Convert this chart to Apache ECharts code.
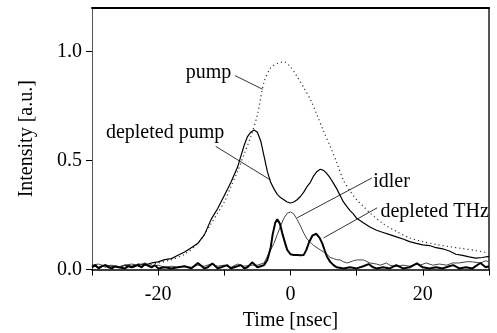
<!DOCTYPE html>
<html><head><meta charset="utf-8">
<script src="https://cdn.jsdelivr.net/npm/echarts@6/dist/echarts.min.js"></script>
<style>html,body{margin:0;padding:0;background:#fff}#c{width:497px;height:333px}</style>
</head><body><div id="c"></div><script>
var FONT = '"Liberation Serif","Times New Roman",serif';
var xTicks = [-30, -20, -10, 0, 10, 20, 30];
var xLabels = [-20, 0, 20];
var yLabels = [0, 0.5, 1.0];

var pump = [[-30,0.015],[-28,0.01],[-26,0.015],[-24,0.012],[-22,0.018],[-20,0.03],[-18,0.045],[-16,0.07],[-14,0.12],[-12,0.21],[-11,0.26],[-10,0.31],[-9,0.38],[-8,0.45],[-7,0.53],[-6,0.61],[-5,0.71],[-4,0.86],[-3,0.925],[-2,0.945],[-1,0.953],[0,0.93],[1,0.885],[2,0.835],[3,0.78],[4,0.71],[5,0.635],[6,0.565],[7,0.49],[8,0.41],[9,0.36],[10,0.32],[11,0.29],[12,0.26],[14,0.21],[16,0.175],[18,0.145],[20,0.128],[22,0.115],[24,0.105],[26,0.096],[28,0.087],[30,0.076]];

var depletedPump = [[-30,0.02],[-29,0.01],[-28,0.02],[-27,0.015],[-26,0.01],[-25,0.02],[-24,0.015],[-23,0.025],[-22,0.02],[-21,0.03],[-20,0.035],[-19,0.045],[-18,0.05],[-17,0.065],[-16,0.08],[-15,0.1],[-14,0.12],[-13,0.16],[-12,0.23],[-11,0.28],[-10,0.34],[-9,0.40],[-8,0.47],[-7.5,0.52],[-7,0.57],[-6.5,0.61],[-6,0.63],[-5.5,0.64],[-5,0.63],[-4.5,0.59],[-4,0.52],[-3.5,0.45],[-3,0.40],[-2.5,0.37],[-2,0.345],[-1.5,0.33],[-1,0.32],[-0.5,0.31],[0,0.305],[0.5,0.31],[1,0.32],[1.5,0.335],[2,0.355],[2.5,0.38],[3,0.40],[3.5,0.43],[4,0.45],[4.5,0.46],[5,0.455],[5.5,0.44],[6,0.42],[6.5,0.395],[7,0.37],[7.5,0.34],[8,0.31],[8.5,0.29],[9,0.27],[9.5,0.255],[10,0.235],[11,0.215],[12,0.195],[13,0.18],[14,0.17],[15,0.16],[16,0.15],[17,0.14],[18,0.128],[19,0.12],[20,0.113],[21,0.11],[22,0.10],[23,0.095],[24,0.085],[25,0.07],[26,0.065],[27,0.058],[28,0.052],[29,0.055],[30,0.06]];

var idler = [[-30,0.02],[-29,0.025],[-28,0.015],[-27,0.02],[-26,0.01],[-25,0.02],[-24,0.025],[-23,0.02],[-22,0.03],[-21,0.015],[-20,0.02],[-19,0.01],[-18,0.015],[-17,0.01],[-16,0.015],[-15,0.01],[-14,0.02],[-13,0.015],[-12,0.025],[-11,0.015],[-10,0.02],[-9,0.01],[-8,0.025],[-7,0.015],[-6,0.02],[-5,0.02],[-4,0.03],[-3.5,0.06],[-3,0.09],[-2.5,0.12],[-2,0.16],[-1.5,0.20],[-1,0.235],[-0.5,0.258],[0,0.264],[0.5,0.255],[1,0.23],[1.5,0.2],[2,0.167],[2.5,0.14],[3,0.125],[3.5,0.11],[4,0.1],[4.5,0.09],[5,0.08],[5.5,0.07],[6,0.055],[6.5,0.05],[7,0.045],[7.5,0.044],[8,0.035],[8.6,0.03],[9.5,0.04],[10,0.044],[11,0.044],[12,0.03],[13,0.025],[13.6,0.02],[14.5,0.03],[15,0.02],[16,0.013],[17,0.02],[18,0.015],[19,0.025],[19.6,0.02],[20.5,0.03],[21.5,0.02],[22.5,0.025],[23.6,0.02],[24.5,0.03],[25.5,0.03],[26.7,0.036],[27.5,0.035],[28.7,0.03],[29.5,0.04],[30,0.035]];

var depletedTHz = [[-30,0.01],[-29.5,0.02],[-29,0.005],[-28.5,0.015],[-28,0.02],[-27.5,0.01],[-27,0.005],[-26.5,0.015],[-26,0.01],[-25,0.005],[-24.5,0.015],[-24,0.01],[-23,0.02],[-22.5,0.01],[-22,0.025],[-21,0.01],[-20.5,0.02],[-20,0.005],[-19,0.01],[-18,0.005],[-17,0.01],[-16,0.015],[-15,0.005],[-14,0.03],[-13,0.005],[-12.5,0.01],[-11.8,0.028],[-11,0.005],[-10.5,0.01],[-9.6,0.02],[-9,0.005],[-8.5,0.01],[-7.5,0.02],[-7,0.005],[-6.5,0.01],[-5.8,0.033],[-5,0.01],[-4.5,0.015],[-4,0.02],[-3.5,0.044],[-3,0.1],[-2.7,0.16],[-2.3,0.215],[-2,0.23],[-1.6,0.21],[-1.25,0.167],[-0.8,0.12],[-0.5,0.09],[0,0.07],[0.5,0.067],[1,0.066],[1.5,0.065],[2,0.067],[2.4,0.09],[2.8,0.125],[3.3,0.155],[3.9,0.164],[4.4,0.145],[4.8,0.12],[5.2,0.085],[5.5,0.06],[6,0.035],[6.5,0.02],[7,0.01],[8,0.005],[9,0.01],[10,0.005],[11,0.015],[11.8,0.025],[12.5,0.01],[13,0.005],[14,0.01],[15,0.005],[16,0.02],[17,0.005],[18,0.01],[19.1,0.028],[20,0.01],[21,0.005],[22,0.01],[23,0.005],[24,0.015],[24.6,0.02],[25.5,0.005],[26.5,0.01],[27.5,0.005],[28.7,0.03],[29.5,0.01],[30,0.015]];

// annotation labels: text, anchor [x, y] (left-middle of text), leader line from -> to
var annoNames = ['pump', 'depleted pump', 'idler', 'depleted THz'];
var annoAnchors = [[-15.85, 0.905], [-27.9, 0.629], [12.5, 0.403], [13.6, 0.265]];
var annoLeaders = [
  [[-8.4, 0.89], [-4.2, 0.827]],
  [[-11.3, 0.565], [-3.0, 0.41]],
  [[12.3, 0.42], [1.0, 0.237]],
  [[13.1, 0.283], [5.0, 0.145]]
];

var chart = echarts.init(document.getElementById('c'), null, {renderer: 'canvas'});
var series = [
  {name: 'pump', type: 'line', data: pump, showSymbol: false, smooth: 0.3,
   lineStyle: {type: [1.2, 3], color: '#333', width: 1.2}, z: 2},
  {name: 'depleted pump', type: 'line', data: depletedPump, showSymbol: false,
   lineStyle: {color: '#000', width: 1.2}, z: 3},
  {name: 'idler', type: 'line', data: idler, showSymbol: false,
   lineStyle: {color: '#444', width: 1}, z: 3},
  {name: 'depleted THz', type: 'line', data: depletedTHz, showSymbol: false,
   lineStyle: {color: '#000', width: 2}, z: 4}
];
annoLeaders.forEach(function (seg, i) {
  series.push({name: 'leader' + i, type: 'line', data: seg, showSymbol: false, silent: true,
    lineStyle: {color: '#000', width: 0.8}, z: 5});
});

chart.setOption({
  animation: false,
  backgroundColor: '#fff',
  grid: {left: 92, right: 8, top: 8, bottom: 63.5, outerBoundsMode: 'none', containLabel: false},
  xAxis: [{
    type: 'value', min: -30, max: 30, interval: 10,
    axisLine: {onZero: false, lineStyle: {color: '#000', width: 1.5}},
    axisTick: {length: 6, lineStyle: {color: '#000', width: 1}},
    axisLabel: {customValues: xLabels, color: '#000', fontFamily: FONT, fontSize: 20, margin: 15},
    splitLine: {show: false},
    name: 'Time [nsec]', nameLocation: 'middle', nameGap: 41,
    nameTextStyle: {color: '#000', fontFamily: FONT, fontSize: 20}
  }, {
    type: 'value', min: -30, max: 30, position: 'top',
    axisLine: {onZero: false, lineStyle: {color: '#000', width: 2}},
    axisTick: {show: false}, axisLabel: {show: false}, splitLine: {show: false}
  }],
  yAxis: [{
    type: 'value', min: 0, max: 1.2, interval: 0.5,
    axisLine: {show: true, onZero: false, lineStyle: {color: '#555', width: 1}},
    axisTick: {show: true, customValues: yLabels, length: 6, lineStyle: {color: '#000'}},
    axisLabel: {customValues: yLabels, color: '#000', fontFamily: FONT, fontSize: 20, margin: 10,
      formatter: function (v) { return v.toFixed(1); }},
    splitLine: {show: false},
    name: 'Intensity [a.u.]', nameLocation: 'middle', nameGap: 55,
    nameTextStyle: {color: '#000', fontFamily: FONT, fontSize: 20}
  }, {
    type: 'value', min: 0, max: 1.2, position: 'right',
    axisLine: {show: true, onZero: false, lineStyle: {color: '#555', width: 2}},
    axisTick: {show: false}, axisLabel: {show: false}, splitLine: {show: false}
  }],
  series: series
});

var graphics = annoNames.map(function (t, i) {
  var p = chart.convertToPixel({gridIndex: 0}, annoAnchors[i]);
  return {type: 'text', x: p[0], y: p[1], z: 10,
    style: {text: t, fill: '#000', font: '20px ' + FONT, textAlign: 'left', textVerticalAlign: 'middle'}};
});
chart.setOption({graphic: graphics});
</script></body></html>
